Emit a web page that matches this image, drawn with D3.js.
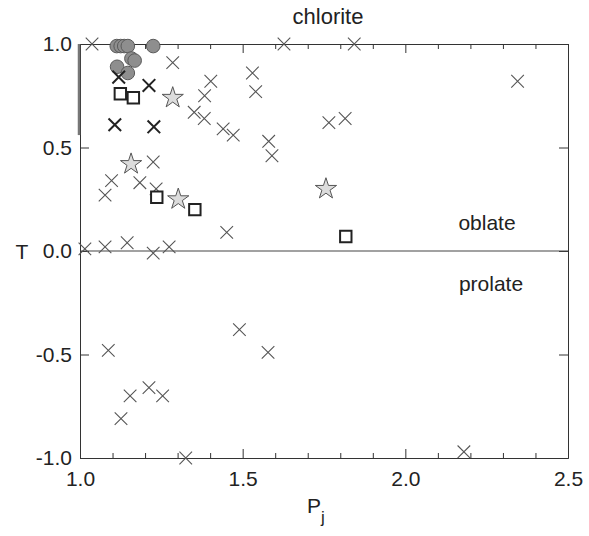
<!DOCTYPE html>
<html>
<head>
<meta charset="utf-8">
<script src="https://cdn.jsdelivr.net/npm/d3@7"></script>
<style>
  html, body { margin: 0; padding: 0; background: #fff; }
  svg { display: block; font-family: "Liberation Sans", Arial, sans-serif; }
</style>
</head>
<body>
<svg id="chart" width="589" height="536"></svg>
<script>
// Degree of anisotropy (Pj) against shape parameter (T)
const crossP = [1.037, 1.627, 1.843, 1.285, 1.402, 1.383, 1.351, 1.382, 1.440, 1.471,
                1.530, 1.540, 1.580, 1.590, 1.765, 1.815, 2.345, 1.225, 1.097, 1.077,
                1.184, 1.234, 1.451, 1.015, 1.077, 1.145, 1.225, 1.274, 1.087, 1.490,
                1.578, 1.154, 1.212, 1.254, 1.126, 1.325, 2.180];
const crossT = [1.00, 1.00, 1.00, 0.91, 0.82, 0.75, 0.67, 0.64, 0.59, 0.56,
                0.86, 0.77, 0.53, 0.46, 0.62, 0.64, 0.82, 0.43, 0.34, 0.27,
                0.33, 0.30, 0.09, 0.01, 0.02, 0.04, -0.01, 0.02, -0.48, -0.38,
                -0.49, -0.70, -0.66, -0.70, -0.81, -1.00, -0.97];

const boldCrossP = [1.107, 1.227, 1.212, 1.119];
const boldCrossT = [0.61, 0.60, 0.80, 0.84];

const circleP = [1.113, 1.125, 1.136, 1.147, 1.225, 1.158, 1.168, 1.114, 1.147];
const circleT = [0.99, 0.99, 0.99, 0.99, 0.99, 0.93, 0.92, 0.89, 0.86];

const squareP = [1.124, 1.164, 1.236, 1.353, 1.817];
const squareT = [0.76, 0.74, 0.26, 0.20, 0.07];

const starP = [1.285, 1.157, 1.302, 1.756];
const starT = [0.74, 0.42, 0.25, 0.30];

// vertical range bar on the left edge
const barP = [1.0, 1.0];
const barT = [1.0, 0.56];

const xMajor = [1.0, 1.5, 2.0, 2.5];
const xMinor = [1.1, 1.2, 1.3, 1.4, 1.6, 1.7, 1.8, 1.9, 2.1, 2.2, 2.3, 2.4];
const yMajor = [-1.0, -0.5, 0.0, 0.5, 1.0];

const zip = (a, b) => a.map((v, i) => [v, b[i]]);
const fmt = d => d.toFixed(1); // plain hyphen for negatives

const svg = d3.select("#chart");
const mLeft = 80, mRight = 568, mTop = 44, mBottom = 458;
const x = d3.scaleLinear().domain([1.0, 2.5]).range([mLeft, mRight]);
const y = d3.scaleLinear().domain([-1.0, 1.0]).range([mBottom, mTop]);

const frame = "#333";

// axes with inward ticks
const g = svg.append("g");
function tickAxis(axisGen, tf) {
  const a = g.append("g").attr("transform", tf).call(axisGen);
  a.select(".domain").attr("stroke", frame).attr("stroke-width", 1);
  a.selectAll(".tick line").attr("stroke", frame).attr("stroke-width", 1);
  return a;
}
// bottom: major with labels
tickAxis(d3.axisBottom(x).tickValues(xMajor).tickSizeInner(-9).tickSizeOuter(0)
  .tickPadding(13).tickFormat(fmt), `translate(0,${mBottom})`)
  .selectAll("text").attr("font-size", 21).attr("fill", "#222");
tickAxis(d3.axisBottom(x).tickValues(xMinor).tickSizeInner(-5).tickSizeOuter(0)
  .tickFormat(""), `translate(0,${mBottom})`);
// top
tickAxis(d3.axisTop(x).tickValues(xMajor).tickSizeInner(-9).tickSizeOuter(0)
  .tickFormat(""), `translate(0,${mTop})`);
tickAxis(d3.axisTop(x).tickValues(xMinor).tickSizeInner(-5).tickSizeOuter(0)
  .tickFormat(""), `translate(0,${mTop})`);
// left
tickAxis(d3.axisLeft(y).tickValues(yMajor).tickSizeInner(-9).tickSizeOuter(0)
  .tickPadding(8).tickFormat(fmt), `translate(${mLeft},0)`)
  .selectAll("text").attr("font-size", 21).attr("fill", "#222");
// right
tickAxis(d3.axisRight(y).tickValues(yMajor).tickSizeInner(-9).tickSizeOuter(0)
  .tickFormat(""), `translate(${mRight},0)`);

// zero line between oblate and prolate fields
svg.append("line")
  .attr("x1", x(1.0)).attr("x2", x(2.5))
  .attr("y1", y(0)).attr("y2", y(0))
  .attr("stroke", "#444").attr("stroke-width", 1.2);

// left range bar
svg.append("line")
  .attr("x1", x(barP[0]) - 1).attr("x2", x(barP[1]) - 1)
  .attr("y1", y(barT[0])).attr("y2", y(barT[1]))
  .attr("stroke", "#777").attr("stroke-width", 2.5);

// thin crosses
const cs = 6.3;
const crossPath = ([p, t]) => {
  const cx = x(p), cy = y(t);
  return `M${cx - cs},${cy - cs}L${cx + cs},${cy + cs}M${cx - cs},${cy + cs}L${cx + cs},${cy - cs}`;
};
svg.append("g").selectAll("path").data(zip(crossP, crossT)).join("path")
  .attr("d", crossPath).attr("stroke", "#555").attr("stroke-width", 1.1).attr("fill", "none");

// circles
svg.append("g").selectAll("circle").data(zip(circleP, circleT)).join("circle")
  .attr("cx", d => x(d[0])).attr("cy", d => y(d[1])).attr("r", 6.8)
  .attr("fill", "#8e8e8e").attr("stroke", "#5a5a5a").attr("stroke-width", 1);

// bold crosses
svg.append("g").selectAll("path").data(zip(boldCrossP, boldCrossT)).join("path")
  .attr("d", crossPath).attr("stroke", "#222").attr("stroke-width", 2).attr("fill", "none");

// squares
svg.append("g").selectAll("path").data(zip(squareP, squareT)).join("path")
  .attr("transform", d => `translate(${x(d[0])},${y(d[1])})`)
  .attr("d", d3.symbol(d3.symbolSquare, 130))
  .attr("fill", "#fff").attr("stroke", "#222").attr("stroke-width", 2);

// stars
svg.append("g").selectAll("path").data(zip(starP, starT)).join("path")
  .attr("transform", d => `translate(${x(d[0])},${y(d[1])})`)
  .attr("d", d3.symbol(d3.symbolStar, 140))
  .attr("fill", "#dcdcdc").attr("stroke", "#555").attr("stroke-width", 1);

// annotations
const txt = (s, tx, ty, size) => svg.append("text").attr("x", tx).attr("y", ty)
  .attr("text-anchor", "middle").attr("font-size", size).attr("fill", "#222").text(s);
txt("chlorite", 328, 24, 22);
txt("oblate", 487, 230, 21);
txt("prolate", 491, 291, 21);
txt("T", 22, 259, 21);

const px = svg.append("text").attr("x", 316).attr("y", 513).attr("text-anchor", "middle")
  .attr("font-size", 21).attr("fill", "#222");
px.append("tspan").text("P");
px.append("tspan").attr("dy", 10).attr("font-size", 17).text("j");
</script>
</body>
</html>
